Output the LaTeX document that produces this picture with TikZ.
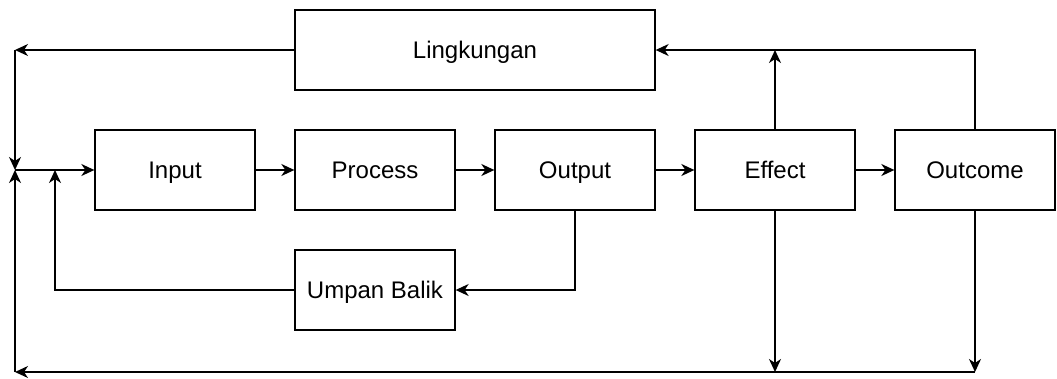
\documentclass[tikz,border=0pt]{standalone}
\usepackage{fontspec}
\setmainfont{Liberation Sans}
\usetikzlibrary{arrows.meta}
\begin{document}
\begin{tikzpicture}[x=1pt,y=-1pt,
  box/.style={draw,line width=1.3pt,minimum width=160pt,minimum height=80pt,inner sep=0pt,
    font=\fontsize{24pt}{28pt}\selectfont,text height=17pt,text depth=0pt},
  conn/.style={line width=1.5pt,-{Stealth[length=13pt,width=12pt,inset=4pt]}}]
\useasboundingbox (0,0) rectangle (1057,378);
\node[box,minimum width=360pt] (env) at (475,50) {Lingkungan};
\node[box] (in) at (175,170) {Input};
\node[box] (pr) at (375,170) {Process};
\node[box] (out) at (575,170) {Output};
\node[box] (ef) at (775,170) {Effect};
\node[box] (oc) at (975,170) {Outcome};
\node[box] (ub) at (375,290) {Umpan Balik};
\coordinate (tl) at (15,50);
\coordinate (j) at (15,170);
\coordinate (bl) at (15,372);
\coordinate (efb) at (775,372);
\coordinate (ocb) at (975,372);
\coordinate (eft) at (775,50);
\coordinate (oct) at (975,50);
\coordinate (ubl) at (55,290);
\coordinate (fb) at (55,170);
\coordinate (outb) at (575,290);
\draw[conn] (env.west) -- (tl);
\draw[conn] (tl) -- (j);
\draw[conn] (bl) -- (j);
\draw[conn] (j) -- (in.west);
\draw[conn] (in) -- (pr);
\draw[conn] (pr) -- (out);
\draw[conn] (out) -- (ef);
\draw[conn] (ef) -- (oc);
\draw[conn] (ef.south) -- (efb);
\draw[conn] (oc.south) -- (ocb);
\draw[conn] (ocb) -- (bl);
\draw[conn] (ef.north) -- (eft);
\draw[conn] (oc.north) -- (oct) -- (env.east);
\draw[conn] (out.south) -- (outb) -- (ub.east);
\draw[conn] (ub.west) -- (ubl) -- (fb);
\end{tikzpicture}
\end{document}
